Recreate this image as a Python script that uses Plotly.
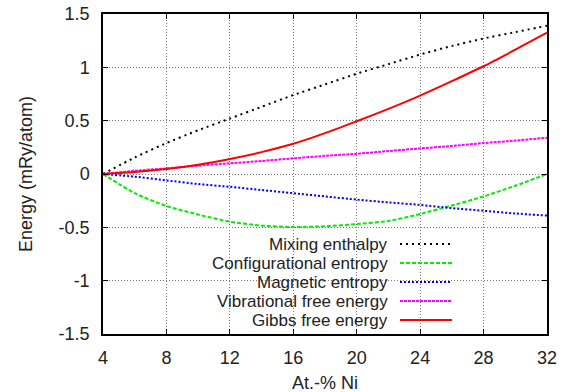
import plotly.graph_objects as go

# ---- data ----
at_ni = [4, 6, 8, 10, 12, 14, 16, 18, 20, 22, 24, 26, 28, 30, 32]
mixing_enthalpy = [0, 0.155, 0.29, 0.41, 0.52, 0.63, 0.74, 0.84, 0.94, 1.03, 1.12, 1.20, 1.27, 1.33, 1.39]
config_entropy = [0, -0.18, -0.30, -0.38, -0.447, -0.484, -0.497, -0.49, -0.47, -0.44, -0.375, -0.295, -0.21, -0.11, 0]
magnetic_entropy = [0, -0.025, -0.06, -0.094, -0.12, -0.15, -0.18, -0.21, -0.24, -0.266, -0.29, -0.32, -0.345, -0.37, -0.39]
vib_free_energy = [0, 0.03, 0.053, 0.078, 0.10, 0.122, 0.147, 0.17, 0.19, 0.215, 0.24, 0.263, 0.29, 0.313, 0.34]
gibbs_free_energy = [0, 0.018, 0.046, 0.086, 0.14, 0.205, 0.283, 0.383, 0.495, 0.61, 0.735, 0.87, 1.01, 1.165, 1.325]

series_names = ["Mixing enthalpy", "Configurational entropy", "Magnetic entropy",
                "Vibrational free energy", "Gibbs free energy"]
series_values = [mixing_enthalpy, config_entropy, magnetic_entropy, vib_free_energy, gibbs_free_energy]
colors = ["#000000", "#00ee00", "#0000ff", "#ff00ff", "#ff0000"]
dashes = ["2px,4px", "4px,2px", "2px,2px", "3px,1px", "solid"]

x_ticks = [4, 8, 12, 16, 20, 24, 28, 32]
y_ticks = [-1.5, -1, -0.5, 0, 0.5, 1, 1.5]
y_tick_text = ["-1.5", "-1", "-0.5", "0", "0.5", "1", "1.5"]
x_title = "At.-% Ni"
y_title = "Energy (mRy/atom)"

FONT = "Liberation Sans, Arial, sans-serif"
FS = 18
KEY_FS = 17
TXT = "#222"

fig = go.Figure()
for name, vals, col, dsh in zip(series_names, series_values, colors, dashes):
    fig.add_trace(go.Scatter(x=at_ni, y=vals, mode="lines", name=name,
                             line=dict(color=col, width=2, dash=dsh, shape="spline", smoothing=0.6),
                             showlegend=False))

# plot area in pixels: left 103, right 547, top 14, bottom 334
L, R, T, B = 103, 547, 14, 334
W, H = R - L, B - T
px = lambda v: (v - L) / W
py = lambda v: (B - v) / H

# opaque key box (hides grid behind legend)
fig.add_shape(type="rect", xref="paper", yref="paper",
              x0=px(189), x1=px(463), y0=py(331), y1=py(234),
              fillcolor="white", line=dict(width=0), layer="below")

row_y = [244, 263, 282, 301, 320]
for name, col, dsh, ry in zip(series_names, colors, dashes, row_y):
    fig.add_annotation(xref="paper", yref="paper", x=px(389), y=py(ry),
                       text=name, showarrow=False, xanchor="right", yanchor="middle",
                       height=17, borderpad=0,
                       font=dict(family=FONT, size=KEY_FS, color=TXT))
    fig.add_shape(type="line", xref="paper", yref="paper",
                  x0=px(400), x1=px(452), y0=py(ry), y1=py(ry),
                  line=dict(color=col, width=2, dash=dsh))

# axis titles
fig.add_annotation(xref="paper", yref="paper", x=px(325), y=py(383), text=x_title,
                   showarrow=False, xanchor="center", yanchor="middle", borderpad=0,
                   font=dict(family=FONT, size=FS, color=TXT))
fig.add_annotation(xref="paper", yref="paper", x=px(26), y=py(174), text=y_title,
                   showarrow=False, xanchor="center", yanchor="middle", textangle=-90, borderpad=0,
                   font=dict(family=FONT, size=FS, color=TXT))

axis_common = dict(showline=True, linecolor="black", linewidth=1.5, mirror="ticks",
                   ticks="inside", ticklen=5, tickcolor="black", tickwidth=1,
                   showgrid=True, gridcolor="#777", gridwidth=1, griddash="1px,2px",
                   zeroline=False, automargin=False,
                   tickfont=dict(family=FONT, size=FS, color=TXT))

fig.update_xaxes(range=[4, 32], tickvals=x_ticks, ticklabelstandoff=7, **axis_common)
fig.update_yaxes(range=[-1.5, 1.5], tickvals=y_ticks, ticktext=y_tick_text, ticklabelstandoff=8,
                 **axis_common)

fig.update_layout(width=577, height=392, margin=dict(l=L, r=577 - R, t=T, b=392 - B),
                  paper_bgcolor="white", plot_bgcolor="white",
                  font=dict(family=FONT, size=FS, color=TXT))

fig.write_html("out.html")
